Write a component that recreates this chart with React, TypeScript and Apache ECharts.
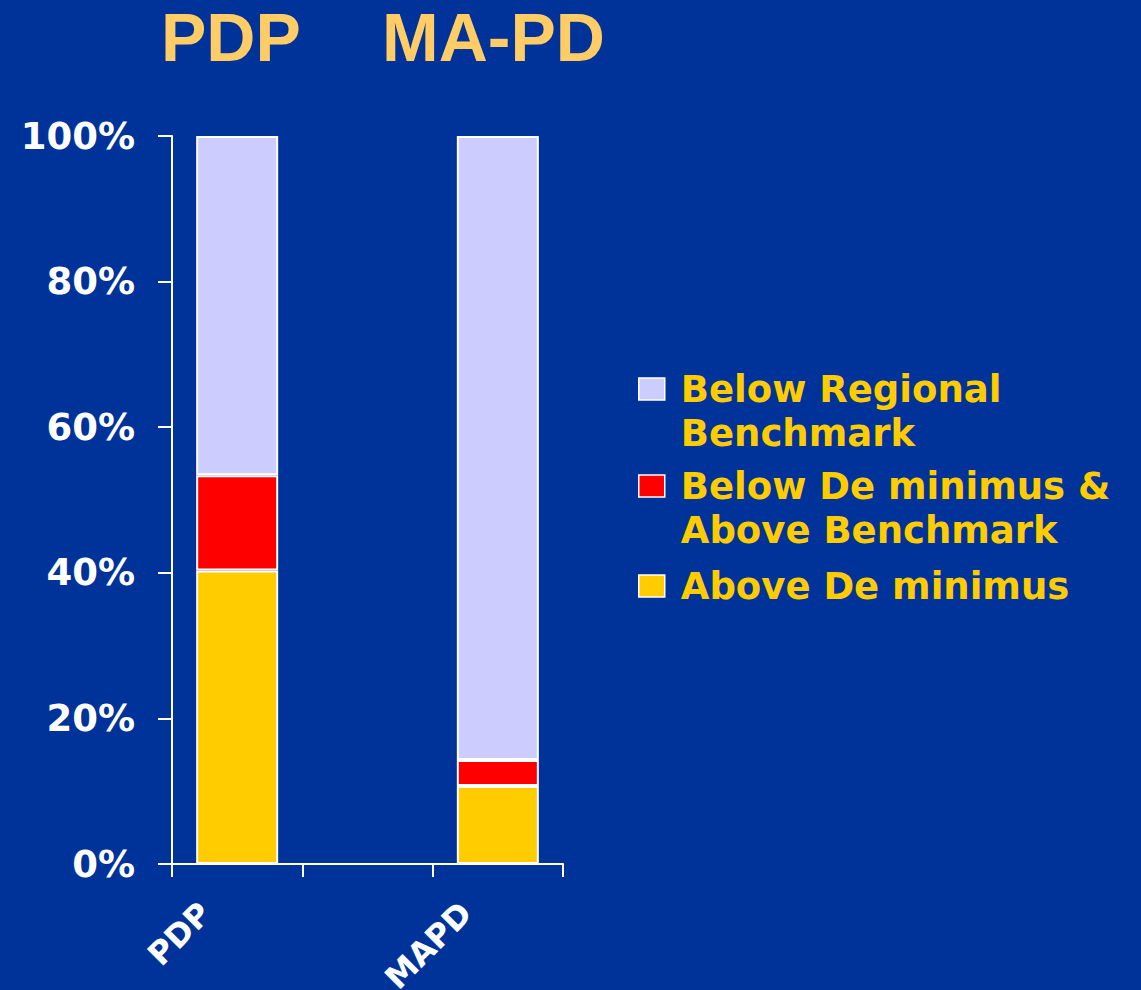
import React, { useEffect, useRef } from "react";
import * as echarts from "echarts";

const categories = ["PDP", "", "MAPD"];
const aboveDeMinimus = [40.3, null, 10.7];
const belowDeMinimusAboveBenchmark = [13.1, null, 3.6];
const belowRegionalBenchmark = [46.6, null, 85.7];
const seriesNames = [
  "Above De minimus",
  "Below De minimus &\nAbove Benchmark",
  "Below Regional\nBenchmark",
];
const seriesColors = ["#FFCC00", "#FF0000", "#CCCCFF"];
const titles = ["PDP", "MA-PD"];

export default function App() {
  const ref = useRef<HTMLDivElement>(null);
  useEffect(() => {
    if (!ref.current) return;
    const chart = echarts.init(ref.current, undefined, { renderer: "svg" });
    const legendText = {
      color: "#FFCC00",
      fontFamily: "DejaVu Sans",
      fontWeight: "bold",
      fontSize: 37,
      lineHeight: 44,
      padding: [0, 0, 0, 11],
    };
    const legendBase = {
      orient: "vertical",
      left: 638,
      padding: 0,
      itemWidth: 26,
      itemStyle: { borderColor: "#FFFFFF", borderWidth: 1.5 },
      selectedMode: false,
      textStyle: legendText,
    };
    // tall icon box: square drawn at the top so that it lines up with the first text line
    const tallIcon = "path://M0,0h26v22h-26z M0,66";
    const datas = [aboveDeMinimus, belowDeMinimusAboveBenchmark, belowRegionalBenchmark];
    const titleStyle = { color: "#FFCC66", fontSize: 68, fontWeight: "bold", fontFamily: "Liberation Sans" };
    chart.setOption({
      animation: false,
      backgroundColor: "#003399",
      title: [
        { text: titles[0], left: 161, top: 3, padding: 0, textStyle: titleStyle },
        { text: titles[1], left: 382, top: 3, padding: 0, textStyle: titleStyle },
      ],
      grid: { left: 172, top: 136, width: 391, height: 728, containLabel: false, outerBoundsMode: "none" },
      xAxis: {
        type: "category",
        data: categories,
        axisLine: { lineStyle: { color: "#FFFFFF", width: 2 } },
        axisTick: { show: true, interval: 0, length: 13, lineStyle: { color: "#FFFFFF", width: 2 } },
        axisLabel: {
          interval: 0,
          rotate: 45,
          color: "#FFFFFF",
          fontFamily: "DejaVu Sans",
          fontWeight: "bold",
          fontSize: 32,
          margin: 12,
          padding: [0, 45, 0, 0],
        },
      },
      yAxis: {
        type: "value",
        min: 0,
        max: 100,
        interval: 20,
        axisLine: { show: true, lineStyle: { color: "#FFFFFF", width: 2 } },
        axisTick: { show: true, length: 14, lineStyle: { color: "#FFFFFF", width: 2 } },
        splitLine: { show: false },
        axisLabel: {
          formatter: "{value}%",
          margin: 37,
          color: "#FFFFFF",
          fontFamily: "DejaVu Sans",
          fontWeight: "bold",
          fontSize: 37,
        },
      },
      legend: [
        { ...legendBase, top: 367, itemHeight: 66, icon: tallIcon, data: [seriesNames[2]] },
        { ...legendBase, top: 464, itemHeight: 66, icon: tallIcon, data: [seriesNames[1]] },
        { ...legendBase, top: 564, itemHeight: 22, icon: "rect", data: [seriesNames[0]] },
      ],
      series: seriesNames.map((name, i) => ({
        name,
        type: "bar",
        stack: "total",
        barWidth: 82,
        data: datas[i],
        itemStyle: { color: seriesColors[i], borderColor: "#FFFFFF", borderWidth: 2 },
      })),
    });
    return () => chart.dispose();
  }, []);
  return (
    <div
      ref={ref}
      style={{ position: "absolute", left: 0, top: 0, width: 1141, height: 990 }}
    />
  );
}
